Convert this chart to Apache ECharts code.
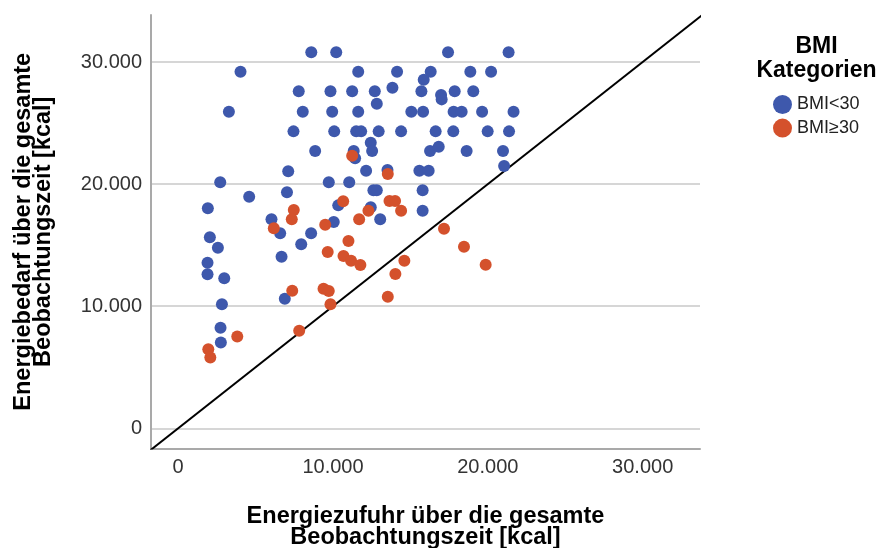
<!DOCTYPE html>
<html>
<head>
<meta charset="utf-8">
<script src="https://cdn.jsdelivr.net/npm/echarts@6/dist/echarts.min.js"></script>
<style>
  html, body { margin: 0; padding: 0; background: #fff; }
  #chart { width: 880px; height: 548px; }
</style>
</head>
<body>
<div id="chart"></div>
<script>
// Energy intake (x) vs. energy requirement (y) over the observation period, kcal
const bmiUnder30 = [
  [8600, 30800], [4030, 29200], [7790, 27600], [3280, 25930], [8050, 25930],
  [7450, 24320], [8850, 22710], [7110, 21050], [2720, 20160], [4590, 18970],
  [7030, 19340], [1920, 18020], [6030, 17120], [6590, 15970], [8590, 15970],
  [2050, 15640], [2570, 14790], [7950, 15070], [6680, 14050], [1900, 13560],
  [1900, 12610], [2980, 12290], [6890, 10610], [2830, 10160], [2740, 8240],
  [2760, 7040], [10210, 30790], [17430, 30790], [21340, 30790], [11630, 29210],
  [14140, 29210], [16310, 29210], [18870, 29210], [20210, 29210], [15860, 28550],
  [13840, 27900], [9840, 27600], [11240, 27600], [12700, 27600], [15710, 27600],
  [16980, 27300], [17020, 26940], [17860, 27600], [19060, 27600], [12830, 26580],
  [9950, 25930], [11630, 25930], [15060, 25930], [15820, 25930], [17790, 25930],
  [18310, 25930], [19630, 25930], [21660, 25930], [10080, 24320], [11500, 24320],
  [11820, 24320], [12950, 24320], [14400, 24320], [16630, 24320], [17770, 24320],
  [19990, 24320], [21370, 24320], [12440, 23390], [11340, 22710], [12530, 22710],
  [16270, 22710], [16830, 23060], [18630, 22710], [20980, 22710], [11430, 22110],
  [12140, 21100], [13520, 21150], [15580, 21100], [16180, 21100], [21050, 21480],
  [9730, 20160], [11050, 20160], [12610, 19490], [12830, 19490], [15790, 19490],
  [10340, 18260], [12440, 18100], [15790, 17820], [13050, 17120], [10050, 16900]
];

const bmiOver30 = [
  [11240, 22330], [13540, 20830], [10660, 18590], [13650, 18620], [14010, 18620],
  [12290, 17820], [14400, 17820], [11690, 17120], [9500, 16670], [17170, 16350],
  [11000, 15340], [9660, 14440], [18460, 14870], [10680, 14110], [11170, 13730],
  [11770, 13370], [14610, 13730], [19860, 13400], [14030, 12640], [9390, 11430],
  [9730, 11240], [13540, 10780], [9840, 10160], [7820, 7990], [7370, 11270],
  [7470, 17880], [7340, 17120], [6180, 16380], [3820, 7530], [1950, 6470],
  [2080, 5810]
];

// reference line intake = requirement, spanning past both axis ends
const identityEnds = [-3000, 36000];

const tickValues = [0, 10000, 20000, 30000];
const seriesNames = ['BMI<30', 'BMI\u226530'];
const seriesColors = ['#3E58AC', '#D4512C'];

const xTitle = 'Energiezufuhr über die gesamte\nBeobachtungszeit [kcal]';
const yTitle = 'Energiebedarf über die gesamte\nBeobachtungszeit [kcal]';
const legendTitle = 'BMI\nKategorien';

const FONT = '"Liberation Sans", Arial, sans-serif';
const fmt = v => String(v).replace(/\B(?=(\d{3})+(?!\d))/g, '.');

const chart = echarts.init(document.getElementById('chart'), null, { renderer: 'canvas' });

const axisCommon = {
  type: 'value',
  nameLocation: 'middle',
  nameTextStyle: { fontFamily: FONT, fontWeight: 'bold', fontSize: 23.5, color: '#000', lineHeight: 20.5 },
  axisLine: { show: true, onZero: false, lineStyle: { color: '#a9a9a9', width: 2 } },
  axisTick: { show: false, customValues: tickValues },
  axisLabel: {
    customValues: tickValues,
    formatter: fmt,
    fontFamily: FONT,
    fontSize: 20,
    color: '#333'
  }
};

chart.setOption({
  animation: false,
  backgroundColor: '#fff',
  grid: {
    left: 151, right: 180, top: 15, bottom: 99.5,
    containLabel: false,
    outerBoundsMode: 'none'
  },
  xAxis: Object.assign({}, axisCommon, {
    min: -1750, max: 33700,
    name: xTitle,
    nameGap: 58,
    splitLine: { show: false },
    axisLabel: Object.assign({}, axisCommon.axisLabel, { margin: 9 })
  }),
  yAxis: Object.assign({}, axisCommon, {
    min: -1650, max: 33850,
    name: yTitle,
    nameGap: 97,
    splitLine: { show: true, lineStyle: { color: '#c8c8c8', width: 1.5 } },
    axisLabel: Object.assign({}, axisCommon.axisLabel, { margin: 9 })
  }),
  legend: {
    data: seriesNames,
    orient: 'vertical',
    left: 768,
    top: 90,
    icon: 'circle',
    itemWidth: 19,
    itemHeight: 19,
    itemGap: 4.6,
    textStyle: { fontFamily: FONT, fontSize: 18, color: '#222' }
  },
  graphic: [{
    type: 'text',
    x: 816.5,
    y: 35,
    style: {
      text: legendTitle,
      font: 'bold 23px ' + FONT,
      fill: '#000',
      textAlign: 'center',
      lineHeight: 24
    }
  }],
  series: [
    {
      name: 'Diagonale',
      type: 'line',
      data: [[identityEnds[0], identityEnds[0]], [identityEnds[1], identityEnds[1]]],
      symbol: 'none',
      clip: true,
      silent: true,
      lineStyle: { color: '#000', width: 2 },
      z: 1
    },
    {
      name: seriesNames[0],
      type: 'scatter',
      data: bmiUnder30,
      symbolSize: 12,
      itemStyle: { color: seriesColors[0], opacity: 1 },
      z: 3
    },
    {
      name: seriesNames[1],
      type: 'scatter',
      data: bmiOver30,
      symbolSize: 12,
      itemStyle: { color: seriesColors[1], opacity: 1 },
      z: 4
    }
  ]
});
</script>
</body>
</html>
